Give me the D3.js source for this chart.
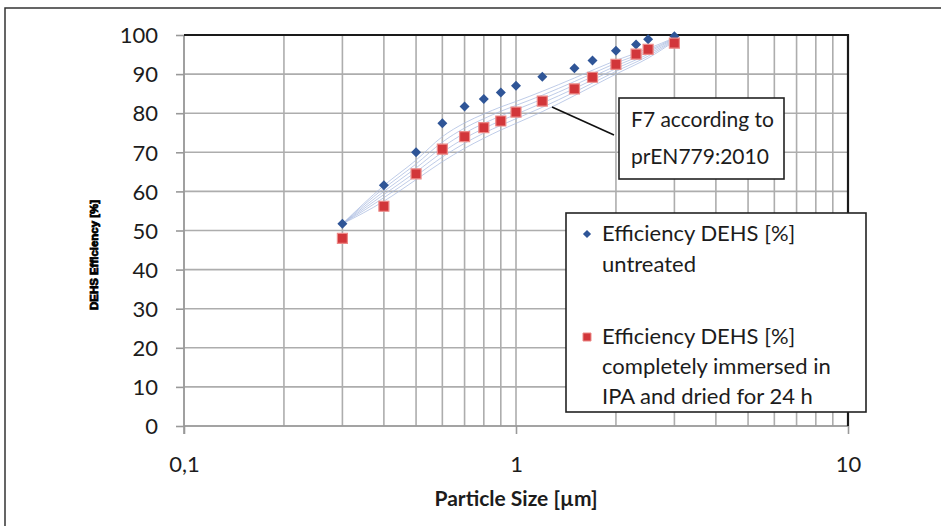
<!DOCTYPE html>
<html>
<head>
<meta charset="utf-8">
<script src="https://cdn.jsdelivr.net/npm/d3@7"></script>
<style>
	body { margin: 0; background: #fff; }
	svg { display: block; font-family: Lato, "Open Sans", sans-serif; }
</style>
</head>
<body>
<script>
// particle sizes (µm) and measured efficiencies (%)
const sizes = [0.3, 0.4, 0.5, 0.6, 0.7, 0.8, 0.9, 1.0, 1.2, 1.5, 1.7, 2.0, 2.3, 2.5, 3.0];
const untreated = [51.7, 61.6, 70.0, 77.4, 81.7, 83.6, 85.3, 87.0, 89.3, 91.5, 93.5, 96.0, 97.6, 98.9, 99.7];
const immersed = [48.0, 56.2, 64.5, 70.8, 74.0, 76.3, 78.0, 80.3, 83.1, 86.2, 89.2, 92.5, 95.1, 96.3, 97.9];

// F7 band curves (prEN779:2010)
const bandSizes = [0.3, 0.4, 0.5, 0.6, 0.7, 0.8, 0.9, 1.0, 1.2, 1.5, 2.0, 2.5, 3.0];
const band1 = [51.7, 61.5, 68.0, 74.0, 77.5, 79.8, 81.6, 83.0, 85.6, 89.0, 93.5, 96.5, 99.3];
const band2 = [51.7, 60.8, 67.0, 72.6, 76.2, 78.6, 80.5, 82.0, 84.6, 88.1, 92.8, 96.0, 99.2];
const band3 = [51.7, 60.0, 66.0, 71.3, 74.9, 77.4, 79.3, 80.9, 83.6, 87.2, 92.1, 95.6, 99.0];
const band4 = [51.7, 59.2, 65.0, 70.0, 73.6, 76.1, 78.1, 79.7, 82.6, 86.3, 91.4, 95.1, 98.8];
const band5 = [51.7, 58.4, 64.0, 68.8, 72.3, 74.9, 76.9, 78.6, 81.5, 85.4, 90.7, 94.6, 98.6];
const band6 = [51.7, 57.5, 63.0, 67.6, 71.0, 73.6, 75.7, 77.4, 80.4, 84.5, 90.0, 94.1, 98.4];

const yTicks = [0, 10, 20, 30, 40, 50, 60, 70, 80, 90, 100];
const xTicks = [0.1, 1, 10];
const xTickLabels = ["0,1", "1", "10"];
const legendUntreated = ["Efficiency DEHS [%]", "untreated"];
const legendImmersed = ["Efficiency DEHS [%]", "completely immersed in", "IPA and dried for 24 h"];
const noteLines = ["F7 according to", "prEN779:2010"];

var width = 941, height = 526;
var mLeft = 184, mRight = 848, mTop = 35, mBottom = 426;
var ink = "#1c1c1c";

var svg = d3.select("body").append("svg")
	.attr("width", width)
	.attr("height", height);

// outer frame
svg.append("path")
	.attr("d", "M5," + height + "V8H" + width)
	.attr("fill", "none")
	.attr("stroke", "#333")
	.attr("stroke-width", 1.5);

var x = d3.scaleLog().domain([0.1, 10]).range([mLeft, mRight]);
var y = d3.scaleLinear().domain([0, 100]).range([mBottom, mTop]);

// minor log grid
var minor = [];
[0.1, 1].forEach(d => d3.range(1, 10).forEach(k => minor.push(d * k)));
minor.push(10);

svg.append("g")
	.selectAll("line")
	.data(minor)
	.enter()
	.append("line")
	.attr("x1", d => x(d))
	.attr("x2", d => x(d))
	.attr("y1", mTop)
	.attr("y2", mBottom)
	.attr("stroke", "#adadad")
	.attr("stroke-width", 1.6);

svg.append("g")
	.selectAll("line")
	.data(yTicks)
	.enter()
	.append("line")
	.attr("x1", mLeft)
	.attr("x2", mRight)
	.attr("y1", d => y(d))
	.attr("y2", d => y(d))
	.attr("stroke", "#adadad")
	.attr("stroke-width", 1.6);

// axes
var yAxis = d3.axisLeft(y).tickValues(yTicks).tickSize(8).tickPadding(18);
var gy = svg.append("g").attr("transform", "translate(" + mLeft + ",0)").call(yAxis);
gy.select(".domain").attr("stroke", "#999").attr("stroke-width", 1.6).attr("d", "M0," + (mBottom + 8) + "V" + mTop);
gy.selectAll(".tick line").attr("stroke", "#999").attr("stroke-width", 1.6);
gy.selectAll(".tick text")
	.attr("font-size", 22)
	.attr("font-family", "Lato, sans-serif")
	.attr("fill", ink)
	.attr("dy", "0.35em");

var xAxis = d3.axisBottom(x).tickValues(xTicks).tickSize(8).tickPadding(22)
	.tickFormat((d, i) => xTickLabels[i]);
var gx = svg.append("g").attr("transform", "translate(0," + mBottom + ")").call(xAxis);
gx.select(".domain").attr("stroke", "#999").attr("stroke-width", 1.6).attr("d", "M" + mLeft + ",0H" + mRight);
gx.selectAll(".tick line").attr("stroke", "#999").attr("stroke-width", 1.6);
gx.selectAll(".tick text")
	.attr("font-size", 22)
	.attr("font-family", "Lato, sans-serif")
	.attr("fill", ink);

// top and right border
svg.append("path")
	.attr("d", "M" + mLeft + "," + mTop + "H" + mRight + "V" + mBottom)
	.attr("fill", "none")
	.attr("stroke", "#1a1a1a")
	.attr("stroke-width", 2.2);

// F7 band
var bands = [band1, band2, band3, band4, band5, band6];
var line = d3.line()
	.x((d, i) => x(bandSizes[i]))
	.y(d => y(d))
	.curve(d3.curveMonotoneX);

svg.append("g")
	.selectAll("path")
	.data(bands)
	.enter()
	.append("path")
	.attr("d", line)
	.attr("fill", "none")
	.attr("stroke", "#a9bbe0")
	.attr("stroke-width", 0.75);

// markers
var diamond = d3.symbol().type(d3.symbolSquare).size(50);
var square = d3.symbol().type(d3.symbolSquare).size(100);

svg.append("g")
	.selectAll("path")
	.data(sizes)
	.enter()
	.append("path")
	.attr("d", diamond)
	.attr("transform", (d, i) => "translate(" + x(d) + "," + y(untreated[i]) + ") rotate(45)")
	.attr("fill", "#2f5597");

svg.append("g")
	.selectAll("path")
	.data(sizes)
	.enter()
	.append("path")
	.attr("d", square)
	.attr("transform", (d, i) => "translate(" + x(d) + "," + y(immersed[i]) + ")")
	.attr("fill", "#d2363a")
	.attr("stroke", "#ec8a88")
	.attr("stroke-width", 1.2);

// annotation
svg.append("line")
	.attr("x1", 552).attr("y1", 107)
	.attr("x2", 614).attr("y2", 135)
	.attr("stroke", "#111")
	.attr("stroke-width", 1.6);

svg.append("rect")
	.attr("x", 619).attr("y", 98)
	.attr("width", 165).attr("height", 81)
	.attr("fill", "#fff")
	.attr("stroke", "#222")
	.attr("stroke-width", 1.6);

svg.append("g")
	.selectAll("text")
	.data(noteLines)
	.enter()
	.append("text")
	.attr("x", 631)
	.attr("y", (d, i) => 127 + i * 37)
	.attr("font-size", 21)
	.attr("fill", ink)
	.text(d => d);

// legend
svg.append("rect")
	.attr("x", 566).attr("y", 213)
	.attr("width", 300).attr("height", 199)
	.attr("fill", "#fff")
	.attr("stroke", "#222")
	.attr("stroke-width", 1.6);

svg.append("path")
	.attr("d", d3.symbol().type(d3.symbolSquare).size(34))
	.attr("transform", "translate(587,234) rotate(45)")
	.attr("fill", "#2f5597");

svg.append("path")
	.attr("d", d3.symbol().type(d3.symbolSquare).size(64))
	.attr("transform", "translate(587,337)")
	.attr("fill", "#d2363a")
	.attr("stroke", "#ec8a88")
	.attr("stroke-width", 1);

svg.append("g")
	.selectAll("text")
	.data(legendUntreated)
	.enter()
	.append("text")
	.attr("x", 602)
	.attr("y", (d, i) => 241 + i * 31)
	.attr("font-size", 22)
	.attr("fill", ink)
	.text(d => d);

svg.append("g")
	.selectAll("text")
	.data(legendImmersed)
	.enter()
	.append("text")
	.attr("x", 602)
	.attr("y", (d, i) => 344 + i * 30)
	.attr("font-size", 22)
	.attr("fill", ink)
	.text(d => d);

// axis titles
svg.append("text")
	.attr("x", (mLeft + mRight) / 2)
	.attr("y", 506)
	.attr("text-anchor", "middle")
	.attr("font-size", 21)
	.attr("font-weight", "bold")
	.attr("fill", ink)
	.text("Particle Size [µm]");

svg.append("text")
	.attr("transform", "translate(98,255) rotate(-90)")
	.attr("text-anchor", "middle")
	.attr("font-family", "'Liberation Sans', sans-serif")
	.attr("font-size", 11)
	.attr("font-weight", "bold")
	.attr("textLength", 110)
	.attr("lengthAdjust", "spacingAndGlyphs")
	.attr("fill", "#000")
	.attr("stroke", "#000")
	.attr("stroke-width", 0.8)
	.text("DEHS Efficiency [%]");
</script>
</body>
</html>
